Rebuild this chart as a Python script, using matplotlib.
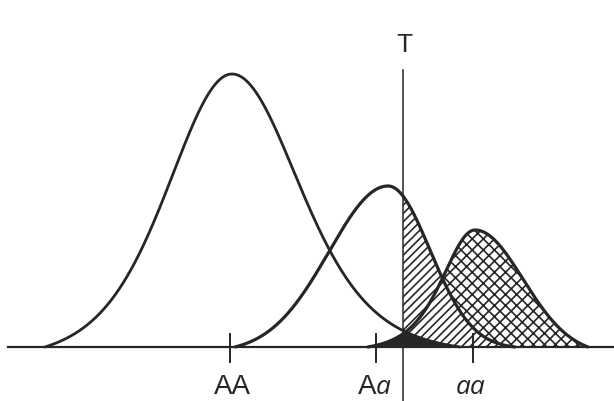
# threshold model sketch: three genotype liability curves, threshold T
import numpy as np
import matplotlib.pyplot as plt

# ---- data (schematic units)
labels      = ["AA", "Aa", "aa"]
means       = [232, 388, 475]
heights     = [273, 161, 117]
sd_left     = [62, 59, 31]
sd_right    = [65, 42, 48]
tail_left   = [4, 1000, 3]      # shape: small = heavy tail, big = normal
tail_right  = [4, 1000, 1000]
x_start     = [45, 235, 368]
x_end       = [460, 515, 588]
tick_pos    = [230, 376, 473]
label_pos   = [232, 376, 471]
threshold   = 403

def bump(z, nu):
    return (1 + z**2 / (2 * nu))**(-nu)

def curve(i, x):
    # two-sided bump, pulled down so it meets the baseline at its ends
    left = x < means[i]
    s = np.where(left, sd_left[i], sd_right[i])
    nu = np.where(left, tail_left[i], tail_right[i])
    f = bump((x - means[i]) / s, nu)
    c0 = bump((x_start[i] - means[i]) / sd_left[i], tail_left[i])
    c1 = bump((x_end[i] - means[i]) / sd_right[i], tail_right[i])
    c = np.where(left, c0, c1)
    y = heights[i] * (f - c) / (1 - c)
    y = np.clip(y, 0, None)
    y[(x < x_start[i]) | (x > x_end[i])] = 0
    return y

x = np.linspace(0, 614, 2400)
ys = [curve(i, x) for i in range(3)]
AA, Aa, aa = ys

ink = "#262626"
plt.rcParams['hatch.linewidth'] = 1.2
plt.rcParams['hatch.color'] = ink
fig = plt.figure(figsize=(6.14, 4.01), dpi=100)
ax = fig.add_axes([0, 0, 1, 1])
ax.set_xlim(0, 614); ax.set_ylim(-54, 347)
ax.axis("off")

right = x >= threshold
# Aa beyond threshold: diagonal hatch
ax.fill_between(x, 0, Aa, where=right, facecolor="white", edgecolor=ink,
                hatch="////", linewidth=0, zorder=1)
# aa above Aa: cross hatch
ax.fill_between(x, Aa, aa, where=(aa > Aa), facecolor="white", edgecolor=ink,
                hatch="xxx", linewidth=0, zorder=1)
# AA past threshold (and AA/aa overlap): solid dark
dark = np.where(right, AA, np.minimum(AA, aa))
ax.fill_between(x, 0, dark, facecolor=ink, linewidth=0, zorder=2)

for i in range(3):
    m = (x >= x_start[i]) & (x <= x_end[i])
    lw = 2.0 if i == 0 else 2.3
    ax.plot(x[m], ys[i][m], color=ink, lw=lw, solid_capstyle="round", zorder=3)

# baseline, ticks, threshold
ax.plot([8, 614], [0, 0], color=ink, lw=1.6, zorder=4)
for t in tick_pos:
    ax.plot([t, t], [13, -15], color=ink, lw=1.4, zorder=4)
ax.plot([threshold, threshold], [277, -54], color=ink, lw=1.1, zorder=4)
ax.text(threshold + 1, 302, "T", ha="center", va="center", fontsize=19,
        family="Liberation Sans", color=ink)

fs = 20
ax.text(label_pos[0], -47, "AA", ha="center", va="baseline", fontsize=fs,
        family="Liberation Sans", color=ink)
ax.text(label_pos[1], -47, "A", ha="right", va="baseline", fontsize=fs,
        family="Liberation Sans", color=ink)
ax.text(label_pos[1], -47, "a", ha="left", va="baseline", fontsize=fs - 1,
        family="Open Sans", style="italic", color=ink)
ax.text(label_pos[2], -47, "aa", ha="center", va="baseline", fontsize=fs - 1,
        family="Open Sans", style="italic", color=ink)

fig.savefig("out.png", dpi=100)
